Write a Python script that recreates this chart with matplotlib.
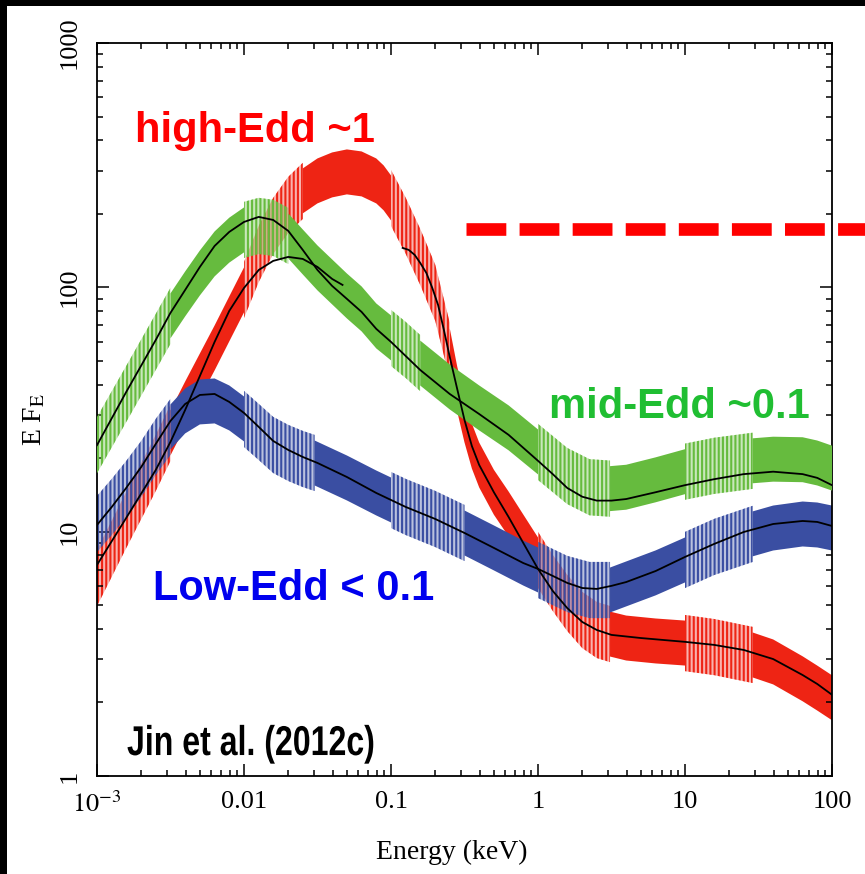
"""SED shapes of three Eddington-ratio groups, after Jin et al. (2012c)."""

import matplotlib

matplotlib.use("Agg")
import matplotlib.pyplot as plt
import numpy as np
from matplotlib.colors import to_rgba
from matplotlib.patches import Rectangle
from matplotlib.patheffects import AbstractPathEffect
from matplotlib.ticker import LogLocator, NullFormatter
from matplotlib.transforms import Affine2D

# ---- data (energy in keV, E F_E in arbitrary units) ----
green_band_e = [0.001, 0.00158, 0.00251, 0.00316, 0.00398, 0.00501, 0.00631, 0.00794,
                0.01, 0.0126, 0.0158, 0.02, 0.0251, 0.0316, 0.0398, 0.0501, 0.0631,
                0.0794, 0.1, 0.126, 0.158, 0.251, 0.398, 0.631, 1, 1.58, 2.24, 3.09,
                3.98, 6.31, 10, 15.8, 28.8, 39.8, 63.1, 79.4, 100]
green_band_f = [22.6, 36.6, 59.8, 76.4, 94.0, 114.5, 137, 156,
                171.8, 178.4, 175.1, 162.3, 139.6, 120.1, 105.2, 92.2, 81.6,
                69.5, 62.1, 55.4, 49.0, 39.1, 32.1, 26.6, 21.2, 16.9, 15.2, 15.0,
                15.2, 16.3, 17.6, 18.6, 19.5, 19.8, 19.7, 19.1, 18.2]
green_model_e = [0.001, 0.00158, 0.00251, 0.00316, 0.00398, 0.00501, 0.00631, 0.00794,
                 0.01, 0.0126, 0.0158, 0.02, 0.0251, 0.0316, 0.0398, 0.0501, 0.0631,
                 0.0794, 0.1, 0.158, 0.251, 0.398, 0.631, 1, 1.26, 1.58, 2.0, 2.51,
                 3.16, 3.98, 6.31, 10, 15.8, 25.1, 39.8, 63.1, 79.4, 100]
green_model_f = [22.6, 37.3, 60.9, 78.6, 97.6, 121.2, 147.7, 168.6,
                 185.2, 194.2, 188.7, 170.2, 142.3, 117.8, 101.3, 89.7, 79.3,
                 67.6, 59.8, 45.9, 36.6, 30.3, 24.9, 19.5, 17.2, 15.1, 13.9, 13.4,
                 13.4, 13.6, 14.5, 15.5, 16.4, 17.2, 17.6, 17.2, 16.6, 15.5]
green_lined = [(0.001, 0.00316), (0.01, 0.02), (0.1, 0.158), (1, 3.09), (10, 28.8)]

blue_band_e = [0.001, 0.00126, 0.00158, 0.002, 0.00251, 0.00316, 0.00398, 0.00501,
               0.00631, 0.00794, 0.01, 0.0126, 0.0158, 0.02, 0.0251, 0.0302, 0.0501,
               0.0794, 0.1, 0.126, 0.2, 0.316, 0.501, 0.794, 1, 1.58, 2.24, 3.09,
               3.98, 6.31, 10, 15.8, 28.8, 39.8, 63.1, 79.4, 100]
blue_band_f = [10.75, 12.62, 14.95, 18.06, 22.22, 26.83, 31.20, 33.96,
               34.28, 32.09, 28.93, 25.59, 22.64, 21.00, 19.84, 19.11, 16.59,
               14.40, 13.48, 12.62, 11.27, 9.88, 8.58, 7.44, 6.97, 6.11, 5.77, 5.77,
               6.11, 6.78, 7.66, 8.66, 9.79, 10.35, 10.75, 10.65, 10.35]
blue_model_e = [0.001, 0.00126, 0.00158, 0.002, 0.00251, 0.00316, 0.00398, 0.00501,
                0.00631, 0.00794, 0.01, 0.0126, 0.0158, 0.02, 0.0251, 0.0316, 0.0501,
                0.0794, 0.126, 0.2, 0.316, 0.501, 0.794, 1, 1.26, 1.58, 2.0, 2.51,
                3.16, 3.98, 6.31, 10, 15.8, 25.1, 39.8, 63.1, 79.4, 100]
blue_model_f = [10.65, 12.62, 15.10, 18.40, 22.86, 28.39, 33.32, 36.27,
                36.61, 33.96, 30.61, 26.83, 23.51, 21.60, 20.22, 19.11, 16.74,
                14.40, 12.62, 11.27, 9.88, 8.58, 7.44, 7.04, 6.59, 6.17, 5.88, 5.83,
                6.00, 6.22, 6.90, 7.88, 8.91, 9.97, 10.75, 11.06, 10.96, 10.55]
blue_lined = [(0.001, 0.00316), (0.01, 0.0302), (0.1, 0.316), (1, 3.09), (10, 28.8)]

red_band_e = [0.001, 0.00158, 0.00251, 0.00316, 0.00398, 0.00501, 0.00631, 0.00794,
              0.01, 0.0126, 0.0158, 0.02, 0.0251, 0.0316, 0.0398, 0.0501, 0.0631,
              0.0794, 0.0891, 0.1, 0.126, 0.158, 0.2, 0.251, 0.282, 0.316, 0.355,
              0.398, 0.501, 0.631, 0.794, 1, 1.26, 1.58, 2.0, 2.51, 3.09, 3.98, 6.31,
              10, 15.8, 28.8, 39.8, 63.1, 79.4, 100]
red_band_f = [6.46, 11.16, 19.11, 25.35, 33.32, 43.38, 56.49, 74.25,
              97.6, 137, 178.4, 217.5, 248.1, 272.6, 288.5, 296.8, 291.2,
              272.6, 255.3, 232.3, 178.4, 133.2, 94.9, 55.0, 38.4, 28.7, 22.4,
              18.75, 14.5, 11.81, 9.51, 7.66, 6.17, 5.11, 4.35, 3.96, 3.81, 3.67, 3.57,
              3.50, 3.37, 3.13, 2.93, 2.50, 2.29, 2.09]
red_lined = [(0.001, 0.00316), (0.01, 0.0251), (0.1, 0.251), (1, 3.09), (10, 28.8)]
# the red model is drawn in two pieces (UV part and X-ray part)
red_model_uv_e = [0.001, 0.00158, 0.00251, 0.00316, 0.00398, 0.00501, 0.00631, 0.00794,
                  0.01, 0.0126, 0.0158, 0.02, 0.0251, 0.0316, 0.0398, 0.0468]
red_model_uv_f = [7.31, 11.38, 17.89, 23.29, 31.5, 43.38, 59.8, 80.1,
                  99.4, 117.8, 128.3, 133.2, 130.7, 121.2, 108.2, 102.3]
red_model_x_e = [0.120, 0.132, 0.145, 0.158, 0.174, 0.191, 0.209, 0.229, 0.251, 0.282,
                 0.316, 0.355, 0.398, 0.501, 0.631, 0.794, 1, 1.26, 1.58, 2.0, 2.51,
                 3.16, 5.01, 10, 15.8, 25.1, 39.8, 63.1, 79.4, 100]
red_model_x_f = [145.0, 142.3, 135.7, 125.9, 114.5, 99.4, 84.7, 66.9, 51.9, 38.4,
                 28.7, 22.4, 18.75, 14.5, 11.48, 8.99, 7.04, 5.72, 4.87, 4.27, 3.96,
                 3.78, 3.67, 3.54, 3.44, 3.28, 3.01, 2.59, 2.38, 2.15]

dashed_level = 172.6      # horizontal reference line
dashed_start = 0.324      # keV, runs off the right edge
dashed_end = 200.0

x_ticks = [1e-3, 1e-2, 1e-1, 1, 10, 100]
x_tick_labels = [r"$10^{-3}$", "0.01", "0.1", "1", "10", "100"]
y_ticks = [1, 10, 100, 1000]
y_tick_labels = ["1", "10", "100", "1000"]

RED = "#ee2414"
GREEN = "#66bb3e"
BLUE = "#3a4ea2"
SOLID_HW = 0.092   # band half-width, dex
LINED_HW = 0.115

plt.rcParams["font.family"] = "Liberation Serif"
plt.rcParams["mathtext.fontset"] = "stix"
plt.rcParams["hatch.linewidth"] = 1.5


class Squeeze(AbstractPathEffect):
    """Draw text narrower than the font (condensed look)."""

    def __init__(self, sx):
        super().__init__()
        self.sx = sx

    def draw_path(self, renderer, gc, tpath, affine, rgbFace=None):
        renderer.draw_path(gc, tpath, Affine2D().scale(self.sx, 1) + affine, rgbFace)


def draw_band(ax, energy, flux, lined, color, zorder):
    e = np.asarray(energy, float)
    f = np.asarray(flux, float)
    inside = np.zeros(len(e), bool)
    span = np.zeros(len(e), bool)
    for lo, hi in lined:
        inside |= (e > lo * 1.001) & (e < hi * 0.999)
        span |= (e >= lo * 0.999) & (e <= hi * 1.001)
    ax.fill_between(e, f / 10**SOLID_HW, f * 10**SOLID_HW, where=~inside,
                    facecolor=color, edgecolor="none", lw=0, zorder=zorder)
    ax.fill_between(e, f / 10**LINED_HW, f * 10**LINED_HW, where=span,
                    facecolor=to_rgba(color, 0.35), edgecolor=color,
                    hatch="||||", lw=0, zorder=zorder)


fig = plt.figure(figsize=(8.65, 8.74), dpi=100)
fig.patch.set_facecolor("white")
ax = fig.add_axes([97 / 865, 98 / 874, 735 / 865, 733 / 874])

draw_band(ax, red_band_e, red_band_f, red_lined, RED, 1)
draw_band(ax, blue_band_e, blue_band_f, blue_lined, BLUE, 2)
draw_band(ax, green_band_e, green_band_f, green_lined, GREEN, 3)

for e, f in [(green_model_e, green_model_f), (blue_model_e, blue_model_f),
             (red_model_uv_e, red_model_uv_f), (red_model_x_e, red_model_x_f)]:
    ax.plot(e, f, color="black", lw=1.3, zorder=5)

ax.plot([dashed_start, dashed_end], [dashed_level, dashed_level], color="#ff0000",
        lw=9.1, dashes=(3.15, 1.05), clip_on=False, zorder=6)

ax.set_xscale("log")
ax.set_yscale("log")
ax.set_xlim(1e-3, 100)
ax.set_ylim(1, 1000)

ax.set_xticks(x_ticks)
ax.set_xticklabels(x_tick_labels, fontsize=19)
ax.set_yticks(y_ticks)
ax.set_yticklabels(y_tick_labels, fontsize=19)
for lbl in ax.get_yticklabels():
    lbl.set_rotation(90)
    lbl.set_va("center")
for axis in (ax.xaxis, ax.yaxis):
    axis.set_minor_locator(LogLocator(base=10, subs=np.arange(2, 10)))
    axis.set_minor_formatter(NullFormatter())
ax.tick_params(which="both", direction="in", top=True, right=True, width=1.1)
ax.tick_params(which="major", length=8.6)
ax.tick_params(which="minor", length=4.3)
ax.tick_params(axis="x", pad=11)
ax.tick_params(axis="y", pad=12)
for sp in ax.spines.values():
    sp.set_linewidth(1.3)

ax.set_xlabel("Energy (keV)", fontsize=20)
ax.xaxis.set_label_coords(0.483, -0.087)
ax.set_ylabel(r"E F$_{\mathrm{E}}$", fontsize=20)
ax.yaxis.set_label_coords(-0.067, 0.486)

bold = dict(fontsize=30, fontweight="bold", family="Liberation Sans", va="baseline",
            transform=ax.transAxes, zorder=7)
ax.text(0.0517, 0.865, "high-Edd ~1", color="#ff0000", **bold)
ax.text(0.615, 0.488, "mid-Edd ~0.1", color="#20be32", **bold)
ax.text(0.0762, 0.240, "Low-Edd < 0.1", color="#0000ee", **bold)
ax.text(0.0408, 0.0286, "Jin et al. (2012c)", color="black",
        path_effects=[Squeeze(0.77)], **bold)

# black frame along the top and left edges of the original slide
fig.add_artist(Rectangle((0, 1 - 6 / 874), 1, 6 / 874, transform=fig.transFigure,
                         facecolor="black", edgecolor="none", zorder=10))
fig.add_artist(Rectangle((0, 0), 7 / 865, 1, transform=fig.transFigure,
                         facecolor="black", edgecolor="none", zorder=10))

fig.savefig("out.png", dpi=100)
